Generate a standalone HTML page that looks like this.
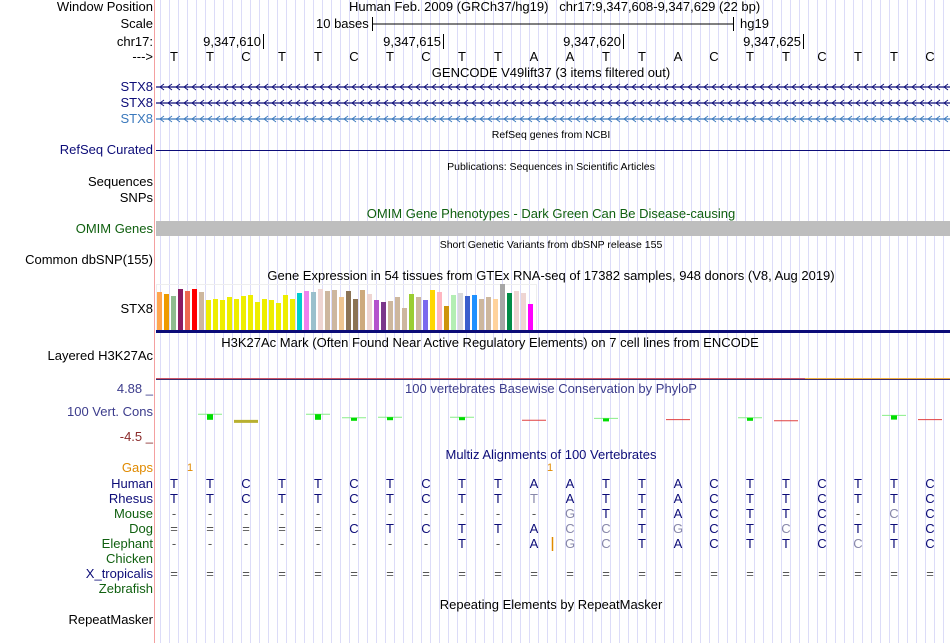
<!DOCTYPE html>
<html><head><meta charset="utf-8">
<style>
body{margin:0;width:950px;height:643px;background:#fff;position:relative;overflow:hidden;font-family:"Liberation Sans",sans-serif;}
.a{position:absolute;white-space:nowrap;line-height:14px;}
.l{position:absolute;right:797px;white-space:nowrap;font-size:13px;line-height:14px;}
.t{position:absolute;white-space:nowrap;font-size:13px;line-height:14px;transform:translateX(-50%);}
.s{font-size:10.5px;}
svg{position:absolute;left:0;top:0;}
</style></head><body>
<svg id="bg" width="950" height="643"></svg>

<div class="l" style="top:0">Window Position</div>
<div class="a" style="left:349px;top:0;font-size:13px">Human Feb. 2009 (GRCh37/hg19)&nbsp;&nbsp;&nbsp;chr17:9,347,608-9,347,629 (22 bp)</div>
<div class="l" style="top:17px">Scale</div>
<div class="a" style="left:316px;top:17px;font-size:13px">10 bases</div>
<div class="a" style="left:740px;top:17px;font-size:13px">hg19</div>
<div class="l" style="top:35px">chr17:</div>
<div class="l" style="top:50px">---&gt;</div>
<div class="t" style="left:551px;top:66px">GENCODE V49lift37 (3 items filtered out)</div>
<div class="l" style="top:80px;color:#0c0c78">STX8</div>
<div class="l" style="top:96px;color:#0c0c78">STX8</div>
<div class="l" style="top:112px;color:#3a78bc">STX8</div>
<div class="t s" style="left:551px;top:128px">RefSeq genes from NCBI</div>
<div class="l" style="top:143px;color:#0c0c78">RefSeq Curated</div>
<div class="t s" style="left:551px;top:160px">Publications: Sequences in Scientific Articles</div>
<div class="l" style="top:175px">Sequences</div>
<div class="l" style="top:191px">SNPs</div>
<div class="t" style="left:551px;top:207px;color:#106010">OMIM Gene Phenotypes - Dark Green Can Be Disease-causing</div>
<div class="l" style="top:222px;color:#106010">OMIM Genes</div>
<div class="t s" style="left:551px;top:238px">Short Genetic Variants from dbSNP release 155</div>
<div class="l" style="top:253px">Common dbSNP(155)</div>
<div class="t" style="left:551px;top:269px">Gene Expression in 54 tissues from GTEx RNA-seq of 17382 samples, 948 donors (V8, Aug 2019)</div>
<div class="l" style="top:302px">STX8</div>
<div class="t" style="left:490px;top:336px">H3K27Ac Mark (Often Found Near Active Regulatory Elements) on 7 cell lines from ENCODE</div>
<div class="l" style="top:349px">Layered H3K27Ac</div>
<div class="l" style="top:382px;color:#3c3c8c">4.88 _</div>
<div class="t" style="left:551px;top:382px;color:#3c3c8c">100 vertebrates Basewise Conservation by PhyloP</div>
<div class="l" style="top:405px;color:#3c3c8c">100 Vert. Cons</div>
<div class="l" style="top:430px;color:#8b2b2b">-4.5 _</div>
<div class="t" style="left:551px;top:448px;color:#0c0c78">Multiz Alignments of 100 Vertebrates</div>
<div class="l" style="top:461px;color:#e08a00">Gaps</div>
<div class="t" style="left:551px;top:598px">Repeating Elements by RepeatMasker</div>
<div class="l" style="top:613px">RepeatMasker</div>
<div id="dyn"></div>

<script>
const bases=["T","T","C","T","T","C","T","C","T","T","A","A","T","T","A","C","T","T","C","T","T","C"];
const tickLabels=["9,347,610","9,347,615","9,347,620","9,347,625"];
const tickBaseIdx=[2,7,12,17];
const gtexValues=[38,36,34,41,39,41,38,30,31,30,33,31,34,35,28,31,30,27,35,31,37,39,38,41,39,40,33,39,31,40,36,30,28,29,33,22,36,33,30,40,38,24,35,37,34,35,31,33,31,46,37,39,37,26];
const gtexColors=["#FFA54F","#EE9A00","#8FBC8F","#8B1C62","#EE6A50","#FF0000","#CDB79E","#EEEE00","#EEEE00","#EEEE00","#EEEE00","#EEEE00","#EEEE00","#EEEE00","#EEEE00","#EEEE00","#EEEE00","#EEEE00","#EEEE00","#EEEE00","#00CDCD","#EE82EE","#9AC0CD","#EED5D2","#CDB79E","#CDB79E","#EEC591","#8B7355","#8B7355","#CDAA7D","#EED5D2","#B452CD","#7A378B","#CDB79E","#CDB79E","#CDB79E","#9ACD32","#CDB79E","#7B68EE","#FFD700","#FFB6C1","#CD950C","#B4EEB4","#D9D9D9","#3A5FCD","#1E90FF","#CDB79E","#CDB79E","#FFD39B","#A6A6A6","#008B45","#EED5D2","#EED5D2","#FF00FF"];
const consIdx=[1,2,4,5,6,8,10,12,14,16,17,20,21];
const consVal=[0.8,-0.4,0.8,0.2,0.3,0.3,-0.2,0.1,-0.1,0.2,-0.3,0.6,-0.1];
const species=["Human","Rhesus","Mouse","Dog","Elephant","Chicken","X_tropicalis","Zebrafish"];
const speciesColors=["#0c0c78","#0c0c78","#106010","#106010","#106010","#106010","#0c0c78","#106010"];
const alignRows=[
 "TTCTTCTCTTAATTACTTCTTC",
 "TTCTTCTCTTtATTACTTCTTC",
 "-----------gTTACTTC-cC",
 "=====CTCTTAccTgCTcCTTC",
 "--------T-AgcTACTTCcTC",
 "                      ",
 "======================",
 "                      "];
const gapsIdx=[0,10];

const NS="http://www.w3.org/2000/svg";
const X0=156,BW=36;
const bx=i=>X0+18+BW*i;
const svg=document.getElementById('bg');
function mk(tag,attrs){const e=document.createElementNS(NS,tag);for(const k in attrs)e.setAttribute(k,attrs[k]);svg.appendChild(e);return e;}
for(let x=X0+4.5;x<950;x+=9){const g=mk('line',{x1:x,x2:x,y1:0,y2:643,stroke:'#dcdcf8','stroke-width':1});

}
const sep=mk('line',{x1:154.5,x2:154.5,y1:0,y2:643,stroke:'#f4a0a0'});


const sb=mk('path',{d:'M372.5 17V31M372.5 24H733.5M733.5 17V31',stroke:'#000',fill:'none'});


const dyn=document.getElementById('dyn');
function txt(x,y,s,color,anchor,size,name){const d=document.createElement('div');d.className='a';d.style.left=x+'px';d.style.top=y+'px';d.style.fontSize=(size||13)+'px';d.style.color=color||'#000';if(anchor)d.style.transform='translateX(-50%)';d.textContent=s;


dyn.appendChild(d);return d;}
tickLabels.forEach((t,k)=>{const xe=bx(tickBaseIdx[k])+18;
const tk=mk('line',{x1:xe-0.5,x2:xe-0.5,y1:34,y2:49,stroke:'#000'});


const d=txt(0,35,t,'#000',false,13,'position-tick-label');d.style.left=(xe-64)+'px';d.style.width='61px';d.style.textAlign='right';});
bases.forEach((b,i)=>txt(bx(i),50,b,'#000',true,13,'base-letter'));
[[87,'#0c0c78'],[103,'#0c0c78'],[119,'#3a78bc']].forEach(([y,c])=>{
const gl=mk('line',{x1:X0,x2:950,y1:y,y2:y,stroke:c,'stroke-width':1.2});


let d='';for(let x=X0+4;x<950;x+=8)d+=`M${x+4} ${y-3}L${x} ${y}L${x+4} ${y+3}`;
const ar=mk('path',{d:d,stroke:c,fill:'none','stroke-width':0.9});

});
const rl=mk('line',{x1:X0,x2:950,y1:150.5,y2:150.5,stroke:'#0c0c78'});


const om=mk('rect',{x:X0,y:221,width:794,height:15,fill:'#bebebe'});


const gb=mk('rect',{x:X0+0.5,y:284.5,width:380,height:46,fill:'none',stroke:'#eeeeee'});


const gy=v=>330-v;
gtexValues.forEach((v,i)=>{const r=mk('rect',{x:X0+1+7*i,y:gy(v),width:5,height:v,fill:gtexColors[i]});

});
const gl2=mk('rect',{x:X0,y:330,width:794,height:3,fill:'#0c0c78'});


const h1=mk('line',{x1:X0,x2:805,y1:378.5,y2:378.5,stroke:'#cc5566'});


const h2=mk('line',{x1:805,x2:950,y1:378.5,y2:378.5,stroke:'#f0b040'});


const h3=mk('line',{x1:X0,x2:950,y1:379.5,y2:379.5,stroke:'#3c2c6c'});


const cy=v=>419-v*6;
consIdx.forEach((i,k)=>{const v=consVal[k];const x=bx(i);const col=v>0?'#00ee00':(v<-0.3?'#b8b030':'#e04040');
const ln=mk('line',{x1:x-12,x2:x+12,y1:cy(v),y2:cy(v),stroke:v>0?'#88ee88':col,'stroke-width':v<-0.3?3:1});


if(v>0){const r=mk('rect',{x:x-3,y:cy(v),width:6,height:Math.max(3,v*7),fill:'#00dd00'});

}});
gapsIdx.forEach(i=>txt(bx(i)+16,461,'1','#e08a00',true,11,'gap-count'));
species.forEach((s,r)=>{const y=477+15*r;
const d=txt(0,y,s,speciesColors[r],false,13,'species-label');d.style.left='';d.style.right='797px';

const row=alignRows[r];for(let i=0;i<22;i++){const ch=row[i];if(ch===' ')continue;
const gray=ch!==ch.toUpperCase();const c=(ch==='-'||ch==='=')?'#555':(gray?'#8888aa':'#0c0c78');
txt(bx(i),y,ch.toUpperCase(),c,true,13,'aligned-base');}});
const ins=mk('line',{x1:552.5,x2:552.5,y1:537,y2:551,stroke:'#e08a00','stroke-width':1.5});


</script>
</body></html>
